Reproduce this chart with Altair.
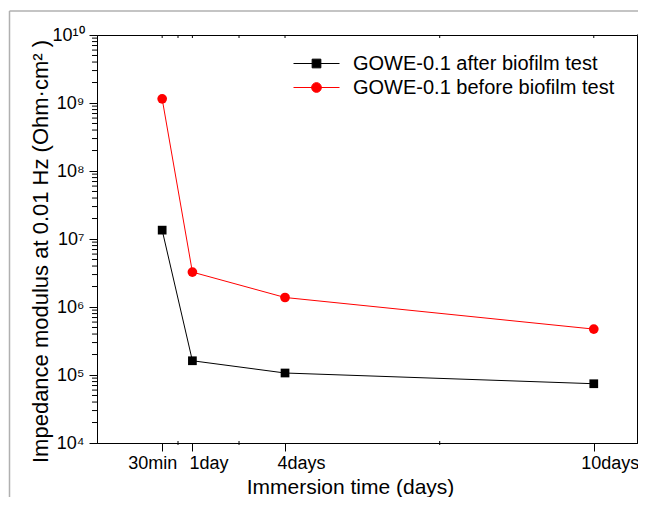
import altair as alt
import pandas as pd

# ---- data ----
x_labels = ["30min", "1day", "4days", "10days"]
x_pos = [0.0208, 1, 4, 14]
after_vals = [1.35e7, 1.62e5, 1.07e5, 7.44e4]
before_vals = [1.15e9, 3.26e6, 1.38e6, 4.73e5]
series_names = ["GOWE-0.1 after biofilm test", "GOWE-0.1 before biofilm test"]
series_colors = ["#000000", "#ff0000"]
series_shapes = ["square", "circle"]
y_tick_labels = ["10⁴", "10⁵", "10⁶", "10⁷", "10⁸", "10⁹", "10¹⁰"]
x_minor = [0.534, 2.51, 9.01]

FONT = "Liberation Sans"
W, H = 540, 408

rows = []
for name, vals in zip(series_names, [after_vals, before_vals]):
    for xl, xp, v in zip(x_labels, x_pos, vals):
        rows.append({"series": name, "label": xl, "x": xp, "z": v})
df = pd.DataFrame(rows)

y_major = [10.0 ** k for k in range(4, 11)]
y_minor = [m * 10.0 ** k for k in range(4, 10) for m in range(2, 10)]

xscale = alt.Scale(domain=[-2.09, 15.40], nice=False, zero=False)
yscale = alt.Scale(type="log", domain=[1e4, 1e10], nice=False)

expr = "''"
for xp, lab in reversed(list(zip(x_pos, x_labels))):
    expr = f"abs(datum.value - {xp}) < 0.01 ? '{lab}' : " + expr
y_label_expr = "[" + ",".join(f"'{t}'" for t in y_tick_labels) + "][round(log(datum.value)/LN10)-4]"

x_enc = alt.X(
    "x:Q", scale=xscale,
    axis=alt.Axis(
        values=x_pos, labelExpr=expr, title="Immersion time (days)",
        tickSize=8, labelPadding=3, grid=False,
        labelOffset={"condition": {"test": "datum.value < 0.5", "value": -10}, "value": 16},
        titleX=253, titleY=44, titleAlign="center", titleBaseline="middle",
    ),
)
y_enc = alt.Y(
    "z:Q", scale=yscale,
    axis=alt.Axis(
        values=y_major, labelExpr=y_label_expr,
        title="Impedance modulus at 0.01 Hz (Ohm·cm² )",
        tickSize=8, labelPadding=5, grid=False,
        titleX=-57, titleY=216, titleAlign="center", titleBaseline="middle",
        titleFontSize=22,
    ),
)

color_scale = alt.Scale(domain=series_names, range=series_colors)

lines = alt.Chart(df).mark_line(strokeWidth=1).encode(
    x=x_enc, y=y_enc,
    stroke=alt.Stroke("series:N", scale=color_scale, legend=None),
    detail="series:N",
)
points = alt.Chart(df).mark_point(filled=True, opacity=1, size=80).encode(
    x="x:Q", y="z:Q",
    fill=alt.Fill("series:N", scale=color_scale, legend=None),
    shape=alt.Shape("series:N", scale=alt.Scale(domain=series_names, range=series_shapes), legend=None),
    size=alt.Size("series:N", scale=alt.Scale(domain=series_names, range=[76, 94]), legend=None),
)

# legend symbols: a line with the marker in the middle
legend_paths = [
    "M-2.3,0H2.3M-0.435,-0.435H0.435V0.435H-0.435Z",
    "M-2.3,0H2.3M-0.485,0A0.485,0.485,0,1,1,0.485,0A0.485,0.485,0,1,1,-0.485,0Z",
]
leg = alt.Legend(
    orient="none", legendX=209, legendY=18, title=None,
    labelFont=FONT, labelFontSize=20, labelColor="black", labelLimit=0,
    symbolSize=400, symbolStrokeWidth=1, labelOffset=26, padding=0,
    rowPadding=3,
)
legend_layer = alt.Chart(df).transform_filter("false").mark_point(filled=True, opacity=1).encode(
    x="x:Q", y="z:Q",
    stroke=alt.Stroke("series:N", scale=color_scale, legend=leg),
    fill=alt.Fill("series:N", scale=color_scale, legend=leg),
    shape=alt.Shape("series:N", scale=alt.Scale(domain=series_names, range=legend_paths), legend=leg),
)

ymin_df = pd.DataFrame({"z": y_minor})
ymaj_df = pd.DataFrame({"z": y_major})
left_minor = alt.Chart(ymin_df).mark_rule(color="black", strokeWidth=1).encode(
    y=alt.Y("z:Q", scale=yscale), x=alt.value(-5), x2=alt.value(0))
right_minor = alt.Chart(ymin_df).mark_rule(color="black", strokeWidth=1).encode(
    y=alt.Y("z:Q", scale=yscale), x=alt.value(W), x2=alt.value(W + 5))
right_major = alt.Chart(ymaj_df).mark_rule(color="black", strokeWidth=1).encode(
    y=alt.Y("z:Q", scale=yscale), x=alt.value(W), x2=alt.value(W + 8))

xt_df = pd.DataFrame({"x": x_pos + x_minor})
xm_df = pd.DataFrame({"x": x_minor})
top_ticks = alt.Chart(xt_df).mark_rule(color="black", strokeWidth=1).encode(
    x=alt.X("x:Q", scale=xscale), y=alt.value(0), y2=alt.value(3))
bottom_minor = alt.Chart(xm_df).mark_rule(color="black", strokeWidth=1).encode(
    x=alt.X("x:Q", scale=xscale), y=alt.value(H - 2), y2=alt.value(H + 2))

border_left = alt.Chart(pd.DataFrame({"a": [0]})).mark_rule(color="#b0b0b0", strokeWidth=1.5).encode(
    x=alt.value(-87.5), y=alt.value(-24), y2=alt.value(H + 70))
border_top = alt.Chart(pd.DataFrame({"a": [0]})).mark_rule(color="#b0b0b0", strokeWidth=1.5).encode(
    x=alt.value(-87.5), x2=alt.value(W + 10), y=alt.value(-24))

chart = alt.layer(
    border_left, border_top, lines, points, legend_layer,
    left_minor, right_minor, right_major, top_ticks, bottom_minor,
).resolve_scale(
    stroke="independent", fill="independent", shape="independent", size="independent"
).properties(
    width=W, height=H,
    autosize=alt.AutoSizeParams(type="none"),
    padding={"left": 89, "top": 27, "right": 1, "bottom": 54},
).configure_view(
    stroke="black", strokeWidth=1
).configure_axis(
    domainColor="black", tickColor="black", labelColor="black", titleColor="black",
    labelFont=FONT, titleFont=FONT, labelFontSize=18, titleFontSize=21,
    titleFontWeight="normal", domainWidth=1, tickWidth=1,
)

chart.save("out.html", embed_options={"renderer": "svg", "actions": False})
